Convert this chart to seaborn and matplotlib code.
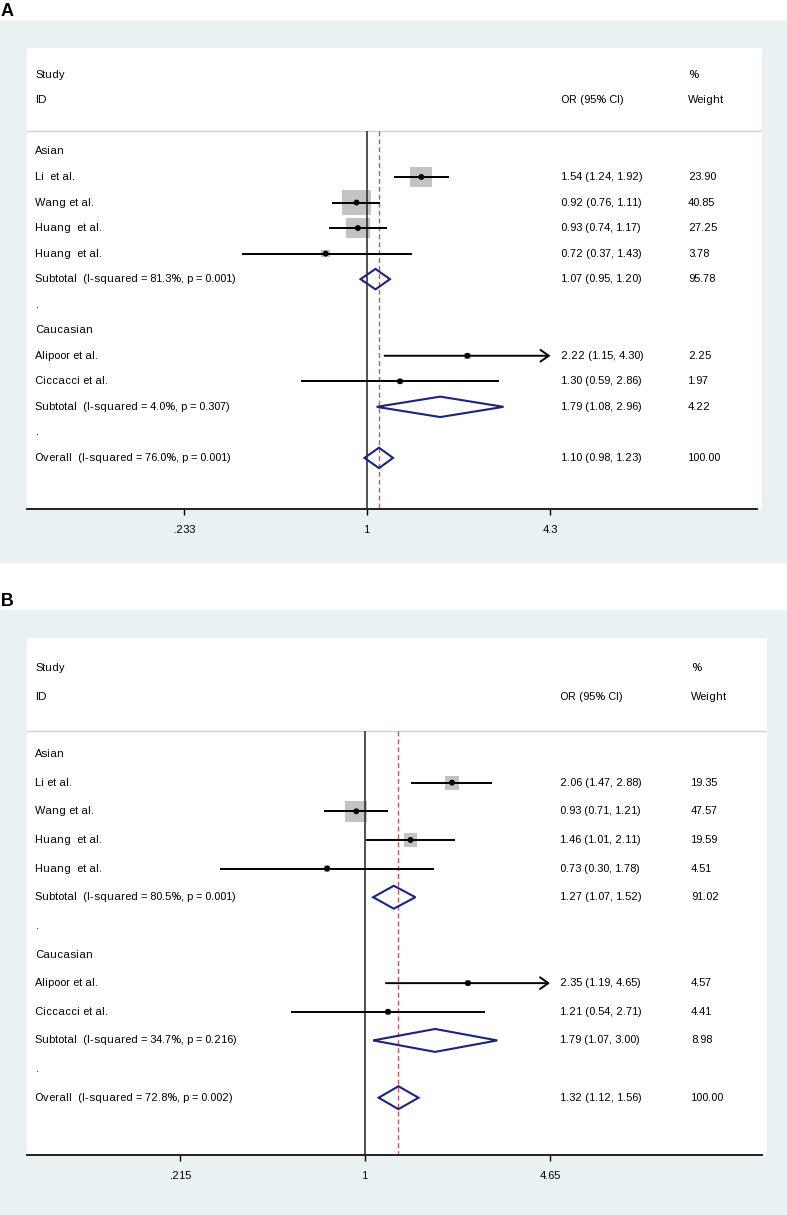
import numpy as np
import pandas as pd
import matplotlib
matplotlib.use("Agg")
import matplotlib.pyplot as plt
import matplotlib.transforms as mtransforms
from matplotlib.patches import Rectangle
from matplotlib.path import Path
from matplotlib.ticker import NullLocator, FixedLocator, FixedFormatter
import seaborn as sns

# ---------------- data: panel A ----------------
studies_a = ["Li  et al.", "Wang et al.", "Huang  et al.", "Huang  et al.", "Alipoor et al.", "Ciccacci et al."]
group_a = ["Asian", "Asian", "Asian", "Asian", "Caucasian", "Caucasian"]
or_a = [1.54, 0.92, 0.93, 0.72, 2.22, 1.30]
lo_a = [1.24, 0.76, 0.74, 0.37, 1.15, 0.59]
hi_a = [1.92, 1.11, 1.17, 1.43, 4.30, 2.86]
wt_a = [23.90, 40.85, 27.25, 3.78, 2.25, 1.97]
sub_or_a = [1.07, 1.79]
sub_lo_a = [0.95, 1.08]
sub_hi_a = [1.20, 2.96]
sub_wt_a = [95.78, 4.22]
sub_i2_a = ["81.3%", "4.0%"]
sub_p_a = ["0.001", "0.307"]
overall_a = [1.10, 0.98, 1.23]
overall_i2_a, overall_p_a = "76.0%", "0.001"
ticks_a = [0.233, 1, 4.3]
ticklabels_a = [".233", "1", "4.3"]

# ---------------- data: panel B ----------------
studies_b = ["Li et al.", "Wang et al.", "Huang  et al.", "Huang  et al.", "Alipoor et al.", "Ciccacci et al."]
group_b = ["Asian", "Asian", "Asian", "Asian", "Caucasian", "Caucasian"]
or_b = [2.06, 0.93, 1.46, 0.73, 2.35, 1.21]
lo_b = [1.47, 0.71, 1.01, 0.30, 1.19, 0.54]
hi_b = [2.88, 1.21, 2.11, 1.78, 4.65, 2.71]
wt_b = [19.35, 47.57, 19.59, 4.51, 4.57, 4.41]
sub_or_b = [1.27, 1.79]
sub_lo_b = [1.07, 1.07]
sub_hi_b = [1.52, 3.00]
sub_wt_b = [91.02, 8.98]
sub_i2_b = ["80.5%", "34.7%"]
sub_p_b = ["0.001", "0.216"]
overall_b = [1.32, 1.12, 1.56]
overall_i2_b, overall_p_b = "72.8%", "0.002"
ticks_b = [0.215, 1, 4.65]
ticklabels_b = [".215", "1", "4.65"]

groups = ["Asian", "Caucasian"]

sns.set_theme(style="white")
plt.rcParams["font.family"] = ["Liberation Sans", "DejaVu Sans"]
plt.rcParams["text.color"] = "black"
plt.rcParams["text.hinting_factor"] = 1

W, H = 787, 1215
fig = plt.figure(figsize=(W / 100, H / 100), dpi=100)
fig.patch.set_facecolor("white")

BG = "#e9f1f3"
NAVY = "#1a237f"
BOX = "#c3c3c3"
RED = "#c4585a"
FS = 8


def build_rows(studies, group, est, lo, hi, wt, s_est, s_lo, s_hi, s_wt, s_i2, s_p, ov, ov_i2, ov_p):
    rows = []
    for k, g in enumerate(groups):
        rows.append(dict(kind="head", label=g))
        for i in range(len(studies)):
            if group[i] == g:
                rows.append(dict(kind="study", label=studies[i], est=est[i], lo=lo[i], hi=hi[i], wt=wt[i]))
        rows.append(dict(kind="sub", label=f"Subtotal  (I-squared = {s_i2[k]}, p = {s_p[k]})",
                         est=s_est[k], lo=s_lo[k], hi=s_hi[k], wt=s_wt[k]))
        rows.append(dict(kind="dot", label="."))
    rows.append(dict(kind="sub", label=f"Overall  (I-squared = {ov_i2}, p = {ov_p})",
                     est=ov[0], lo=ov[1], hi=ov[2], wt=100.0))
    df = pd.DataFrame(rows)
    df["y"] = np.arange(len(df))
    return df


def panel(letter, bg, box, x_one, ppl, axis_end, sq_k, sq_aspect, col_or, col_wt, df, ticks, ticklabels):
    # grey backdrop + letter
    fig.patches.append(Rectangle((0, 1 - bg[1] / H), 1, (bg[1] - bg[0]) / H,
                                 transform=fig.transFigure, color=BG, zorder=-5))
    fig.text(1 / W, 1 - (bg[0] - 9) / H, letter, fontsize=13, fontweight="bold", va="center", ha="left")

    x0, y0, x1, y1 = box
    ax = fig.add_axes([x0 / W, 1 - y1 / H, (x1 - x0) / W, (y1 - y0) / H])
    ax.set_zorder(1)
    ax.set_facecolor("white")
    ax.set_xscale("log")
    xlo = np.exp((x0 - x_one) / ppl)
    xhi = np.exp((x1 - x_one) / ppl)
    xend = np.exp((axis_end - x_one) / ppl)

    fx = lambda px: (px - x0) / (x1 - x0)
    tr = mtransforms.blended_transform_factory(ax.transAxes, ax.transData)

    # header
    ax.text(fx(35), -3, "Study", transform=tr, fontsize=FS, va="center")
    ax.text(fx(35), -2, "ID", transform=tr, fontsize=FS, va="center")
    ax.text(fx(col_or), -2, "OR (95% CI)", transform=tr, fontsize=FS, va="center")
    ax.text(fx(col_wt), -3, "%", transform=tr, fontsize=FS, va="center")
    ax.text(fx(col_wt), -2, "Weight", transform=tr, fontsize=FS, va="center")
    ax.axhline(-0.8, color="#cfcfcf", lw=1.0, zorder=1)

    # row labels and estimate text
    for _, r in df.iterrows():
        ax.text(fx(35), r.y, r.label, transform=tr, fontsize=FS, va="center")
        if r.kind in ("study", "sub"):
            ax.text(fx(col_or), r.y, f"{r.est:.2f} ({r.lo:.2f}, {r.hi:.2f})", transform=tr, fontsize=FS, va="center")
            ax.text(fx(col_wt), r.y, f"{r.wt:.2f}", transform=tr, fontsize=FS, va="center")

    top_sep, bottom = -0.8, 14.0
    ax.vlines(1, top_sep, bottom, color="#222222", lw=1.1, zorder=3)
    ov = df[df.kind == "sub"].iloc[-1]
    ax.vlines(ov.est, top_sep, bottom, color=RED, lw=1.0, linestyles=(0, (3.5, 2.2)), zorder=2)

    st = df[df.kind == "study"].copy()
    rect = Path([(-1, -sq_aspect), (1, -sq_aspect), (1, sq_aspect), (-1, sq_aspect), (-1, -sq_aspect)],
                [Path.MOVETO, Path.LINETO, Path.LINETO, Path.LINETO, Path.CLOSEPOLY])
    wmin, wmax = st.wt.min(), st.wt.max()
    sns.scatterplot(data=st, x="est", y="y", size="wt", sizes=(sq_k * wmin, sq_k * wmax),
                    size_norm=(wmin, wmax), marker=rect, color=BOX, edgecolor="none",
                    linewidth=0, legend=False, ax=ax, zorder=2)

    tmax = ticks[-1]
    for _, r in st.iterrows():
        if r.hi >= tmax:
            ax.annotate("", xy=(tmax, r.y), xytext=(r.lo, r.y),
                        arrowprops=dict(arrowstyle="->,head_length=0.6,head_width=0.42",
                                        lw=1.4, color="black", shrinkA=0, shrinkB=0,
                                        mutation_scale=10), zorder=4)
        else:
            ax.hlines(r.y, r.lo, r.hi, color="black", lw=1.4, zorder=4)

    sns.scatterplot(data=st, x="est", y="y", color="black", s=18, marker="o",
                    edgecolor="none", legend=False, ax=ax, zorder=5)

    h = 0.4
    for _, r in df[df.kind == "sub"].iterrows():
        ax.fill([r.lo, r.est, r.hi, r.est, r.lo], [r.y, r.y - h, r.y, r.y + h, r.y],
                facecolor="none", edgecolor=NAVY, lw=1.5, zorder=4)

    ax.set_xlim(xlo, xhi)
    ax.set_ylim(bottom, -4.05)
    ax.set_xlabel("")
    ax.set_ylabel("")
    ax.set_yticks([])
    ax.xaxis.set_major_locator(FixedLocator(ticks))
    ax.xaxis.set_major_formatter(FixedFormatter(ticklabels))
    ax.xaxis.set_minor_locator(NullLocator())
    for s in ("left", "right", "top"):
        ax.spines[s].set_visible(False)
    ax.spines["bottom"].set_bounds(xlo, xend)
    ax.spines["bottom"].set_color("#222222")
    ax.spines["bottom"].set_linewidth(1.4)
    ax.tick_params(axis="x", bottom=True, length=4.5, width=1.0, direction="out",
                   colors="black", labelsize=FS, pad=7)
    return ax


rows_a = build_rows(studies_a, group_a, or_a, lo_a, hi_a, wt_a, sub_or_a, sub_lo_a, sub_hi_a,
                    sub_wt_a, sub_i2_a, sub_p_a, overall_a, overall_i2_a, overall_p_a)
rows_b = build_rows(studies_b, group_b, or_b, lo_b, hi_b, wt_b, sub_or_b, sub_lo_b, sub_hi_b,
                    sub_wt_b, sub_i2_b, sub_p_b, overall_b, overall_i2_b, overall_p_b)

panel("A", (21, 562), (27, 48, 762, 509), 367, 125.8, 757, 10.7, 0.87, 561, 688,
      rows_a, ticks_a, ticklabels_a)
panel("B", (610, 1215), (27, 638, 767, 1155), 365, 120.4, 762, 5.05, 1.0, 560, 691,
      rows_b, ticks_b, ticklabels_b)

fig.savefig("out.png", dpi=100)
